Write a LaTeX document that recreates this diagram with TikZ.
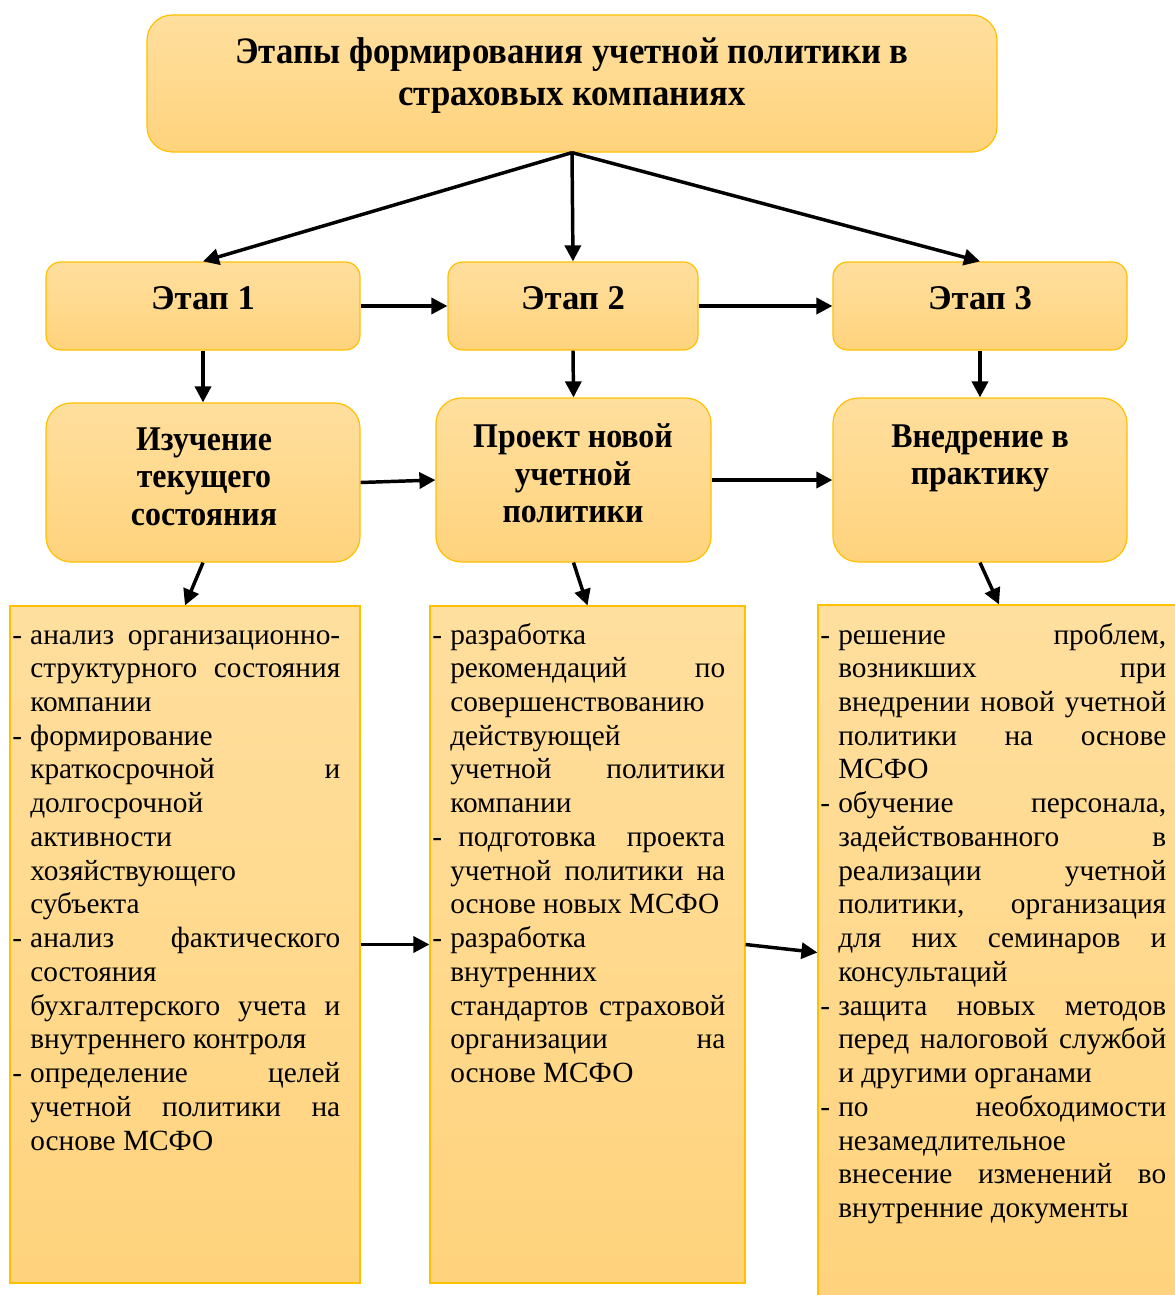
\documentclass[tikz,border=0pt]{standalone}
\usepackage{fontspec}
\setmainfont{Liberation Serif}
\newfontfamily\hfont[FakeStretch=0.92]{Liberation Serif}
\newfontfamily\tfont[FakeStretch=0.93]{Liberation Serif}
\usetikzlibrary{arrows.meta}
\definecolor{ytop}{RGB}{255,223,158}
\definecolor{ybot}{RGB}{255,211,125}
\definecolor{yline}{RGB}{255,192,0}
\newcommand\J[1]{\hbox to\hsize{#1}}
\newcommand\Ll[1]{\hbox{#1}}
\newcommand\D{\llap{\hbox to 13.5pt{-\hfil}}}
\newcommand\bodytext[2]{\parbox[t]{#1}{\fontsize{22}{25.3}\selectfont #2}}
\tikzset{
  rbox/.style={draw=yline, line width=0.9pt, top color=ytop, bottom color=ybot, rounded corners=#1, inner sep=0pt},
  rbox/.default=12pt,
  hdr/.style={font=\hfont\bfseries\fontsize{26}{28}\selectfont, align=center, inner sep=0pt},
  stg/.style={font=\bfseries\fontsize{26}{28}\selectfont, align=center, inner sep=0pt},
  arr/.style={line width=2.6pt, -{Triangle[length=12pt,width=12pt]}},
  body/.style={anchor=base west, inner sep=0pt}
}
\begin{document}
\begin{tikzpicture}[x=0.75pt,y=-0.75pt]
\useasboundingbox (0,0) rectangle (1174,1295);
% boxes
\node[rbox=19pt, minimum width={850*0.75pt}, minimum height={137*0.75pt}] (t) at (572,83.5) {};
\node[hdr, font=\tfont\bfseries\fontsize{28}{31}\selectfont] (tt) at (572,75.5) {Этапы формирования учетной политики в\\страховых компаниях};

\node[rbox=11pt, minimum width={314*0.75pt}, minimum height={88*0.75pt}] (s1) at (203,306) {};
\node[rbox=11pt, minimum width={250*0.75pt}, minimum height={88*0.75pt}] (s2) at (573,306) {};
\node[rbox=11pt, minimum width={294*0.75pt}, minimum height={88*0.75pt}] (s3) at (980,306) {};
\node[stg] (s1t) at (203,298) {Этап 1};
\node[stg] (s2t) at (573,298) {Этап 2};
\node[stg] (s3t) at (980,298) {Этап 3};

\node[rbox=19pt, minimum width={314*0.75pt}, minimum height={159*0.75pt}] (b1) at (203,482.5) {};
\node[rbox=19pt, minimum width={275*0.75pt}, minimum height={164*0.75pt}] (b2) at (573.5,480) {};
\node[rbox=19pt, minimum width={294*0.75pt}, minimum height={164*0.75pt}] (b3) at (980,480) {};
\node[hdr] (b1t) at (204,476.5) {Изучение\\текущего\\состояния};
\node[hdr] (b2t) at (573,473.5) {Проект новой\\учетной\\политики};
\node[hdr] (b3t) at (980,458.5) {Внедрение в\\практику};

\node[rbox=0pt, minimum width={350*0.75pt}, minimum height={677*0.75pt}] (d1) at (185,944.5) {};
\node[rbox=0pt, minimum width={315*0.75pt}, minimum height={677*0.75pt}] (d2) at (587.5,944.5) {};
\node[rbox=0pt, minimum width={362*0.75pt}, minimum height={695*0.75pt}] (d3) at (999,952.5) {};

\node[body] (d1t) at (30,644) {\bodytext{232.5pt}{%
\J{\D анализ организационно-}
\J{структурного состояния}
\Ll{компании}
\Ll{\D формирование}
\J{краткосрочной и}
\Ll{долгосрочной}
\Ll{активности}
\Ll{хозяйствующего}
\Ll{субъекта}
\J{\D анализ фактического}
\Ll{состояния}
\J{бухгалтерского учета и}
\Ll{внутреннего контроля}
\J{\D определение целей}
\J{учетной политики на}
\Ll{основе МСФО}}};

\node[body] (d2t) at (450,644) {\bodytext{206.25pt}{%
\Ll{\D разработка}
\J{рекомендаций по}
\Ll{совершенствованию}
\Ll{действующей}
\J{учетной политики}
\Ll{компании}
\J{\D\hspace{6pt}подготовка проекта}
\J{учетной политики на}
\Ll{основе новых МСФО}
\Ll{\D разработка}
\Ll{внутренних}
\J{стандартов страховой}
\J{организации на}
\Ll{основе МСФО}}};

\node[body] (d3t) at (838,644) {\bodytext{246pt}{%
\J{\D решение проблем,}
\J{возникших при}
\J{внедрении новой учетной}
\J{политики на основе}
\Ll{МСФО}
\J{\D обучение персонала,}
\J{задействованного в}
\J{реализации учетной}
\J{политики, организация}
\J{для них семинаров и}
\Ll{консультаций}
\J{\D защита новых методов}
\J{перед налоговой службой}
\Ll{и другими органами}
\J{\D по необходимости}
\Ll{незамедлительное}
\J{внесение изменений во}
\Ll{внутренние документы}}};

% connectors
\draw[arr] (t.south) -- (s1.north);
\draw[arr] (t.south) -- (s2.north);
\draw[arr] (t.south) -- (s3.north);
\draw[arr] (s1.east) -- (s2.west);
\draw[arr] (s2.east) -- (s3.west);
\draw[arr] (s1.south) -- (b1.north);
\draw[arr] (s2.south) -- (b2.north);
\draw[arr] (s3.south) -- (b3.north);
\draw[arr] (b1.east) -- (b2.west);
\draw[arr] (b2.east) -- (b3.west);
\draw[arr] (b1.south) -- (d1.north);
\draw[arr] (b2.south) -- (d2.north);
\draw[arr] (b3.south) -- (d3.north);
\draw[arr] (d1.east) -- (d2.west);
\draw[arr] (d2.east) -- (d3.west);
\end{tikzpicture}
\end{document}
